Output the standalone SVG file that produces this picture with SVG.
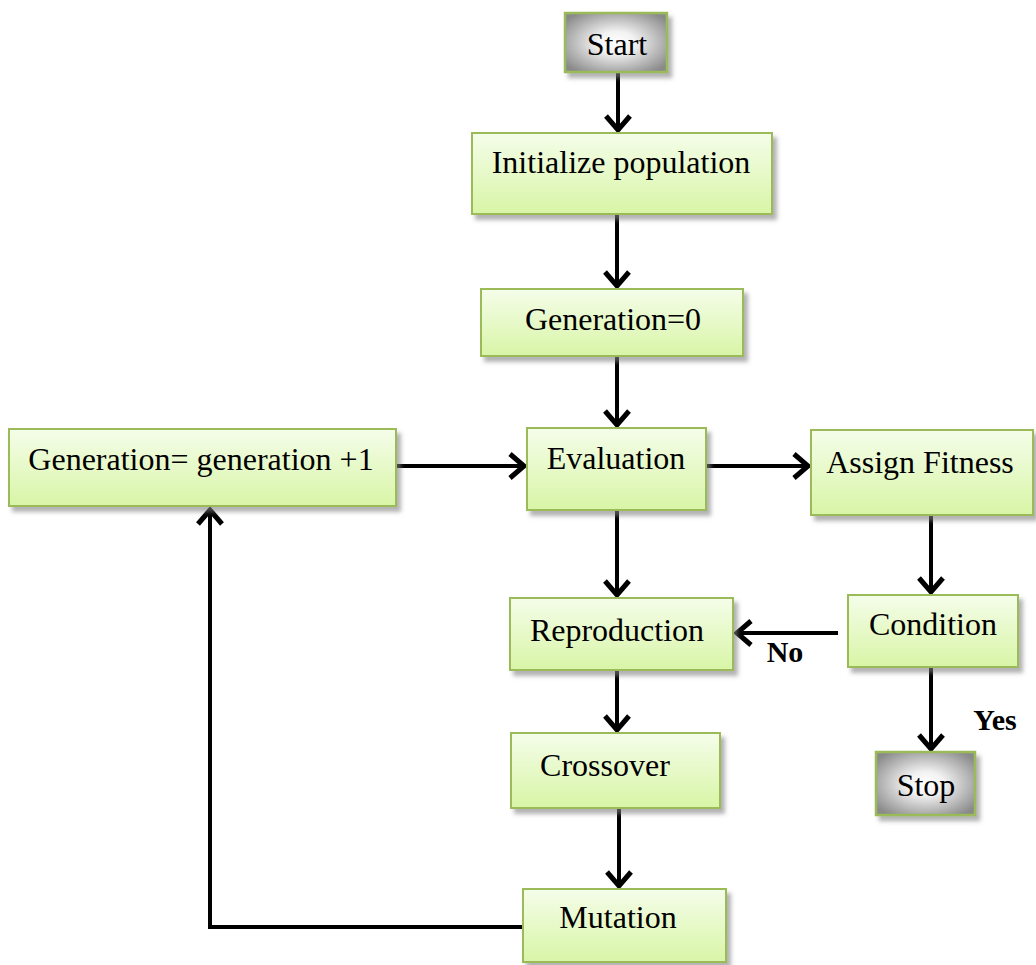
<svg xmlns="http://www.w3.org/2000/svg" width="1036" height="965" viewBox="0 0 1036 965">
<defs>
<linearGradient id="green" x1="0" y1="0" x2="0" y2="1">
<stop offset="0" stop-color="#f5fdea"/>
<stop offset="1" stop-color="#d8f5a6"/>
</linearGradient>
<radialGradient id="gray" cx="0.5" cy="0.5" r="0.62">
<stop offset="0" stop-color="#ffffff"/>
<stop offset="0.3" stop-color="#f2f2f2"/>
<stop offset="1" stop-color="#8a8a8a"/>
</radialGradient>
<filter id="sh" x="-10%" y="-10%" width="130%" height="140%">
<feDropShadow dx="4" dy="5" stdDeviation="2" flood-color="#808080" flood-opacity="0.6"/>
</filter>
<marker id="arr" markerUnits="userSpaceOnUse" markerWidth="40" markerHeight="40" viewBox="-20 -20 40 40" refX="0" refY="0" orient="auto">
<path d="M-15,-12 L-1,0 L-15,12" fill="none" stroke="#000" stroke-width="5"/>
</marker>
</defs>
<style>
.g{fill:url(#green);stroke:#9bbb59;stroke-width:2;filter:url(#sh)}
.s{fill:url(#gray);stroke:#9bbb59;stroke-width:2.5;filter:url(#sh)}
text{font-family:"Liberation Serif","Times New Roman",serif;font-size:32px;fill:#000;text-anchor:middle}
.b{font-weight:bold;font-size:30px}
.c{fill:none;stroke:#000;stroke-width:4}
</style>
<g id="connectors">
<line class="c" x1="618" y1="72" x2="618" y2="131" marker-end="url(#arr)"/>
<line class="c" x1="617" y1="214" x2="617" y2="287" marker-end="url(#arr)"/>
<line class="c" x1="617" y1="356" x2="617" y2="426" marker-end="url(#arr)"/>
<line class="c" x1="396" y1="466" x2="525" y2="466" marker-end="url(#arr)"/>
<line class="c" x1="706" y1="466" x2="809" y2="466" marker-end="url(#arr)"/>
<line class="c" x1="617" y1="510" x2="617" y2="596" marker-end="url(#arr)"/>
<line class="c" x1="931" y1="515" x2="931" y2="593" marker-end="url(#arr)"/>
<line class="c" x1="838" y1="633" x2="736" y2="633" marker-end="url(#arr)"/>
<line class="c" x1="931" y1="667" x2="931" y2="750" marker-end="url(#arr)"/>
<line class="c" x1="617" y1="670" x2="617" y2="731" marker-end="url(#arr)"/>
<line class="c" x1="619" y1="808" x2="619" y2="887" marker-end="url(#arr)"/>
<polyline class="c" points="523,927 210,927 210,509" marker-end="url(#arr)"/>
<text class="b" x="785" y="662">No</text>
<text class="b" x="995" y="730">Yes</text>
</g>
<g id="start"><rect class="s" x="565" y="13" width="102" height="59"/><text x="617" y="55">Start</text></g>
<g id="init"><rect class="g" x="472" y="133" width="300" height="81"/><text x="621" y="173">Initialize population</text></g>
<g id="gen0"><rect class="g" x="481" y="289" width="262" height="67"/><text x="613" y="330">Generation=0</text></g>
<g id="genplus"><rect class="g" x="9" y="429" width="387" height="77"/><text x="201" y="470">Generation= generation +1</text></g>
<g id="evaluation"><rect class="g" x="527" y="428" width="179" height="82"/><text x="616" y="469">Evaluation</text></g>
<g id="assign"><rect class="g" x="811" y="430" width="222" height="85"/><text x="920" y="473">Assign Fitness</text></g>
<g id="reproduction"><rect class="g" x="510" y="598" width="223" height="72"/><text x="617" y="641">Reproduction</text></g>
<g id="condition"><rect class="g" x="848" y="595" width="170" height="72"/><text x="933" y="635">Condition</text></g>
<g id="stop"><rect class="s" x="876" y="752" width="99" height="63"/><text x="926" y="796">Stop</text></g>
<g id="crossover"><rect class="g" x="511" y="733" width="209" height="75"/><text x="605" y="776">Crossover</text></g>
<g id="mutation"><rect class="g" x="523" y="889" width="203" height="73"/><text x="618" y="928">Mutation</text></g>
</svg>
